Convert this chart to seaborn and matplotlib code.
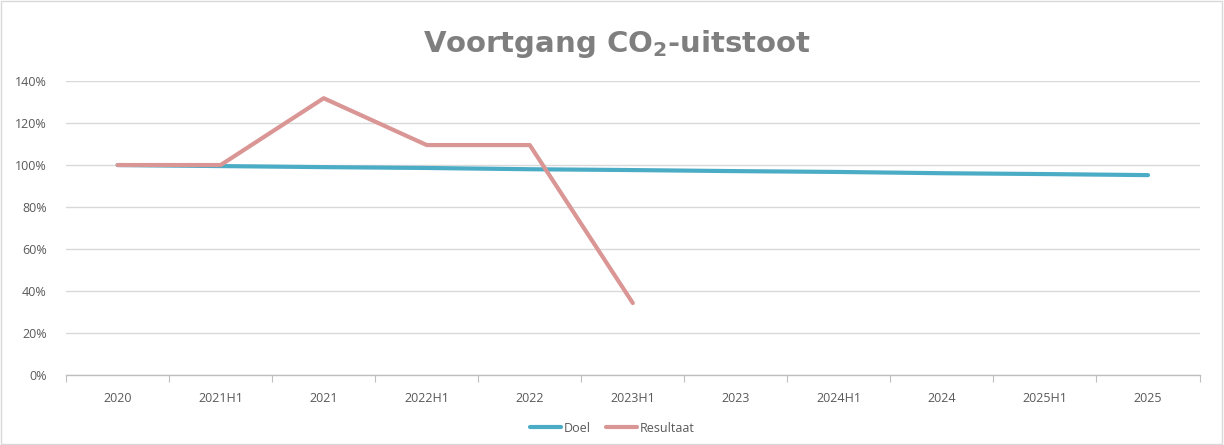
import matplotlib
matplotlib.use('Agg')
import matplotlib.pyplot as plt
import seaborn as sns
import numpy as np
import pandas as pd
from matplotlib.patches import Rectangle
from matplotlib.ticker import PercentFormatter

# data
periods = ['2020', '2021H1', '2021', '2022H1', '2022', '2023H1',
           '2023', '2024H1', '2024', '2025H1', '2025']
doel = [100, 99.5, 99, 98.6, 98, 97.6, 97.1, 96.7, 96.1, 95.7, 95.2]
resultaat = [100, 100, 131.8, 109.5, 109.5, 34.3]

df = pd.concat([
    pd.DataFrame({'periode': periods, 'waarde': doel, 'reeks': 'Doel'}),
    pd.DataFrame({'periode': periods[:len(resultaat)], 'waarde': resultaat, 'reeks': 'Resultaat'}),
])
df['x'] = df['periode'].map({p: i for i, p in enumerate(periods)})

sns.set_theme(style='white')
plt.rcParams['font.family'] = ['Open Sans', 'DejaVu Sans']
plt.rcParams['mathtext.fontset'] = 'dejavusans'
plt.rcParams['mathtext.default'] = 'bf'

fig = plt.figure(figsize=(12.24, 4.45), dpi=100)
ax = fig.add_axes([0.054, 0.157, 0.926, 0.661])

sns.lineplot(data=df, x='x', y='waarde', hue='reeks', sort=False,
             palette={'Doel': '#4bacc6', 'Resultaat': '#d99694'},
             linewidth=3, ax=ax, legend=False, solid_capstyle='round')

ax.set_xlim(-0.5, len(periods) - 0.5)
ax.set_ylim(0, 140)
ax.set_yticks(np.arange(0, 141, 20))
ax.yaxis.set_major_formatter(PercentFormatter(decimals=0))
ax.set_xticks(range(len(periods)))
ax.set_xticklabels(periods)
ax.set_xticks(np.arange(-0.5, len(periods)), minor=True)
ax.tick_params(axis='x', which='major', length=0, pad=12, labelsize=9, labelcolor='#595959')
ax.tick_params(axis='x', which='minor', bottom=True, length=5, width=0.8, color='#bfbfbf')
ax.tick_params(axis='y', length=0, labelsize=9, labelcolor='#595959', pad=14)
ax.set_xlabel('')
ax.set_ylabel('')
ax.grid(axis='y', color='#d9d9d9', linewidth=1)
ax.grid(axis='x', visible=False)
for s in ['top', 'right', 'left']:
    ax.spines[s].set_visible(False)
ax.spines['bottom'].set_color('#bfbfbf')
ax.spines['bottom'].set_linewidth(1)
ax.set_axisbelow(True)

fig.text(0.504, 0.9, r'Voortgang CO$_2$-uitstoot', ha='center', va='center',
         fontsize=21, fontweight='bold', color='#7f7f7f', family=['DejaVu Sans'])

handles = [plt.Line2D([], [], color='#4bacc6', lw=3, solid_capstyle='round'),
           plt.Line2D([], [], color='#d99694', lw=3, solid_capstyle='round')]
fig.legend(handles, ['Doel', 'Resultaat'], loc='center', bbox_to_anchor=(0.5, 0.038),
           ncol=2, frameon=False, fontsize=9, labelcolor='#595959',
           handlelength=2.5, handletextpad=0.2, columnspacing=1.2)

fig.add_artist(Rectangle((0.001, 0.002), 0.997, 0.995, transform=fig.transFigure,
                         fill=False, edgecolor='#d9d9d9', linewidth=1))

fig.savefig('out.png', dpi=100)
